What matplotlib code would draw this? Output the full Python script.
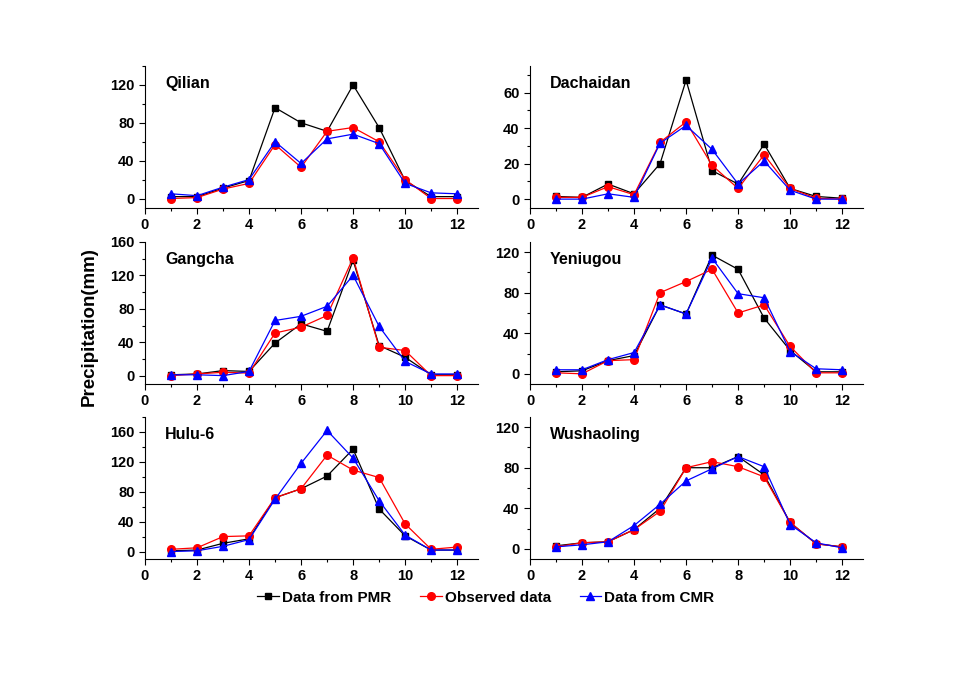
import numpy as np
import matplotlib
matplotlib.use("Agg")
import matplotlib.pyplot as plt
from matplotlib.ticker import MultipleLocator

plt.rcParams["font.family"] = ["Liberation Sans", "DejaVu Sans"]
plt.rcParams["font.weight"] = "bold"

months = np.arange(1, 13)

stations = ["Qilian", "Dachaidan", "Gangcha", "Yeniugou", "Hulu-6", "Wushaoling"]

pmr = {
    "Qilian": [2, 2, 11, 19, 96, 80, 71, 120, 75, 19, 2, 2],
    "Dachaidan": [1.5, 1, 8.5, 3, 20, 67, 16, 8.5, 31, 6, 1.5, 0.5],
    "Gangcha": [1, 2, 6, 5, 39, 62, 53, 138, 36, 22, 1, 1],
    "Yeniugou": [2, 3, 13, 18, 68, 59, 117, 103, 55, 23, 2, 2],
    "Hulu-6": [1, 2, 11, 17, 72, 84, 101, 137, 57, 21, 2, 2],
    "Wushaoling": [3, 6, 7, 19, 40, 80, 80, 91, 73, 26, 5, 2],
}
observed = {
    "Qilian": [0, 1, 10, 16, 57, 33, 71, 75, 60, 20, 0, 0],
    "Dachaidan": [1, 1, 7, 2.5, 32, 43.5, 19, 6, 25, 6, 0.5, 0],
    "Gangcha": [0, 2, 4, 3, 51, 58, 72, 141, 34, 30, 0, 0],
    "Yeniugou": [1, 0, 13, 14, 80, 91, 103, 60, 68, 27, 1, 1],
    "Hulu-6": [3, 5, 20, 21, 72, 84, 129, 109, 99, 37, 3, 6],
    "Wushaoling": [2, 6, 7, 19, 37, 80, 86, 81, 71, 26, 5, 2],
}
cmr = {
    "Qilian": [5, 3, 12, 20, 60, 37, 63, 68, 58, 16, 6, 5],
    "Dachaidan": [0, 0, 3, 1, 31.5, 41.5, 28, 8.5, 21.5, 5, 0, 0],
    "Gangcha": [1, 1, 0, 5, 66, 71, 83, 120, 59, 17, 2, 2],
    "Yeniugou": [4, 4, 14, 21, 68, 59, 114, 79, 75, 22, 5, 4],
    "Hulu-6": [0, 1, 7, 16, 70, 118, 162, 125, 68, 22, 2, 2],
    "Wushaoling": [2, 4, 7, 23, 44, 67, 79, 91, 81, 24, 6, 1],
}

ylims = {
    "Qilian": (-10, 140, 40),
    "Dachaidan": (-5, 75, 20),
    "Gangcha": (-10, 160, 40),
    "Yeniugou": (-10, 130, 40),
    "Hulu-6": (-10, 180, 40),
    "Wushaoling": (-10, 130, 40),
}

fig = plt.figure(figsize=(9.64, 6.74), dpi=100)

lefts = [0.1504, 0.5498]
bottoms = [0.6914, 0.4303, 0.1706]
w, h = 0.3454, 0.2107

lines = []
for i, name in enumerate(stations):
    ax = fig.add_axes([lefts[i % 2], bottoms[i // 2], w, h])
    l1, = ax.plot(months, pmr[name], color="black", marker="s", ms=5, lw=0.9,
                  label="Data from PMR")
    l2, = ax.plot(months, observed[name], color="red", marker="o", ms=5.5, lw=0.9,
                  label="Observed data")
    l3, = ax.plot(months, cmr[name], color="blue", marker="^", ms=6, lw=0.9,
                  label="Data from CMR")
    lines = [l1, l2, l3]

    lo, hi, step = ylims[name]
    ax.set_xlim(0, 12.8)
    ax.set_ylim(lo, hi)
    ax.xaxis.set_major_locator(MultipleLocator(2))
    ax.xaxis.set_minor_locator(MultipleLocator(1))
    ax.yaxis.set_major_locator(MultipleLocator(step))
    ax.yaxis.set_minor_locator(MultipleLocator(step / 2))
    ax.spines["top"].set_visible(False)
    ax.spines["right"].set_visible(False)
    ax.tick_params(which="major", direction="out", length=4, width=0.8,
                   labelsize=10.5)
    ax.tick_params(which="minor", direction="out", length=2.5, width=0.8)
    for lab in ax.get_xticklabels() + ax.get_yticklabels():
        lab.set_fontweight("bold")
    ax.text(0.06, 0.88, name, transform=ax.transAxes, fontsize=11.5,
            fontweight="bold", va="center")

fig.text(0.093, 0.516, "Precipitation(mm)", rotation=90, fontsize=13.5,
         fontweight="bold", va="center", ha="center")

fig.legend(lines, [l.get_label() for l in lines], loc="center",
           bbox_to_anchor=(0.504, 0.113), ncol=3, frameon=False,
           prop={"weight": "bold", "size": 11}, handlelength=1.4,
           handletextpad=0.2, columnspacing=1.9)

fig.savefig("out.png", dpi=100)
